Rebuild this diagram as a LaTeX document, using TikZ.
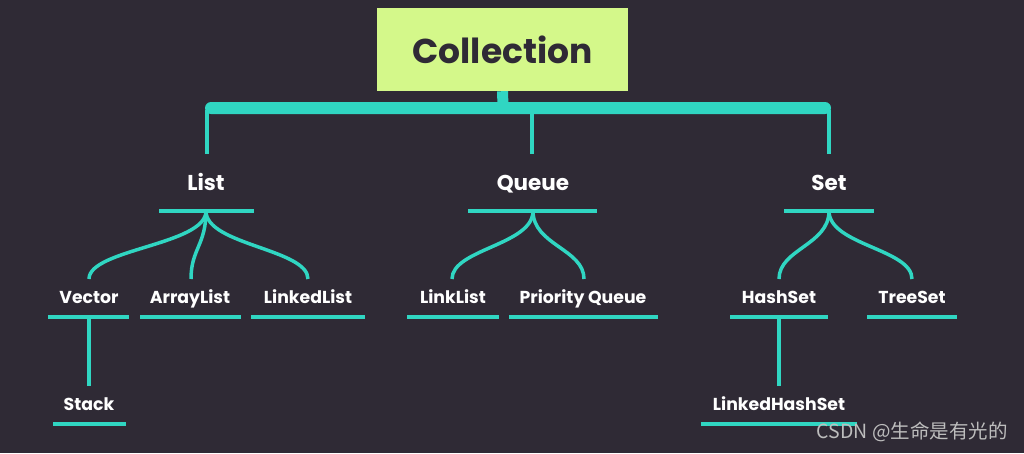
\documentclass[tikz,border=0pt]{standalone}
\usepackage{fontspec}
\setmainfont{Poppins}
\newfontfamily\cjkfont{Noto Sans CJK SC}
\definecolor{bgdark}{HTML}{2F2A35}
\definecolor{mint}{HTML}{30D6C2}
\definecolor{lime}{HTML}{D4F88A}
\definecolor{markgray}{HTML}{BDBDBD}
\tikzset{
  root/.style={fill=lime, text=bgdark, inner sep=0pt, minimum width=251pt, minimum height=83pt,
    font=\fontsize{34.5}{40}\selectfont\bfseries},
  head/.style={text=white, inner sep=0pt, anchor=base, font=\fontsize{21.5}{25}\selectfont\bfseries},
  leaf/.style={text=white, inner sep=0pt, anchor=base, font=\fontsize{17.3}{20}\selectfont\bfseries},
  uline/.style={draw=mint, line width=3.5pt},
  link/.style={draw=mint, line width=3.5pt},
}

\begin{document}
\begin{tikzpicture}[x=1pt,y=-1pt]
\fill[bgdark] (0,0) rectangle (1024,453);
\useasboundingbox (0,0) rectangle (1024,453);

% top box and bracket
\node[root] (coll) at (502.5,49.5) {Collection};
\coordinate (stem) at (503,106);
\draw[mint, line width=11pt] (coll.south) -- (stem);
\fill[mint, rounded corners=6pt] (205,102) rectangle (831,114);

\coordinate (list-bar) at (207,110);
\coordinate (queue-bar) at (532,110);
\coordinate (set-bar) at (829,110);
\coordinate (list-leg) at (207,154);
\coordinate (queue-leg) at (532,154);
\coordinate (set-leg) at (829,154);
\draw[link] (list-bar) -- (list-leg);
\draw[link] (queue-bar) -- (queue-leg);
\draw[link] (set-bar) -- (set-leg);

% second row
\node[head] (list) at (206,190) {List};
\node[head] (queue) at (533,190) {Queue};
\node[head] (set) at (829,190) {Set};

\draw[uline] (159,211) -- (254,211);
\draw[uline] (468,211) -- (597,211);
\draw[uline] (784,211) -- (874,211);

\coordinate (list-m) at (206,211);
\coordinate (queue-m) at (533,211);
\coordinate (set-m) at (829,211);

% third row
\node[leaf] (vector) at (89,303.5) {Vector};
\node[leaf] (arraylist) at (190,303.5) {ArrayList};
\node[leaf] (linkedlist) at (308,303.5) {LinkedList};
\node[leaf] (linklist) at (453,303.5) {LinkList};
\node[leaf] (prio) at (583,303.5) {Priority Queue};
\node[leaf] (hashset) at (779,303.5) {HashSet};
\node[leaf] (treeset) at (912,303.5) {TreeSet};

\coordinate (vector-t) at (89,279);
\coordinate (arraylist-t) at (191,279);
\coordinate (linkedlist-t) at (308,279);
\coordinate (linklist-t) at (452,279);
\coordinate (prio-t) at (584,279);
\coordinate (hashset-t) at (779,279);
\coordinate (treeset-t) at (912,279);

\draw[link] (list-m) .. controls +(0,34) and +(0,-30) .. (vector-t);
\draw[link] (list-m) .. controls +(0,34) and +(0,-30) .. (arraylist-t);
\draw[link] (list-m) .. controls +(0,34) and +(0,-30) .. (linkedlist-t);
\draw[link] (queue-m) .. controls +(0,34) and +(0,-30) .. (linklist-t);
\draw[link] (queue-m) .. controls +(0,34) and +(0,-30) .. (prio-t);
\draw[link] (set-m) .. controls +(0,34) and +(0,-30) .. (hashset-t);
\draw[link] (set-m) .. controls +(0,34) and +(0,-30) .. (treeset-t);

\draw[uline] (48,317) -- (129,317);
\draw[uline] (140,317) -- (241,317);
\draw[uline] (251,317) -- (365,317);
\draw[uline] (407,317) -- (499,317);
\draw[uline] (509,317) -- (658,317);
\draw[uline] (730,317) -- (828,317);
\draw[uline] (867,317) -- (957,317);

\coordinate (vector-m) at (89,317);
\coordinate (hashset-m) at (779,317);

% fourth row
\node[leaf] (stack) at (89,410) {Stack};
\node[leaf] (linkedhash) at (779,410) {LinkedHashSet};
\coordinate (stack-t) at (89,386);
\coordinate (linkedhash-t) at (779,386);
\draw[link] (vector-m) -- (stack-t);
\draw[link] (hashset-m) -- (linkedhash-t);

\draw[uline] (53,424) -- (126,424);
\draw[uline] (701,424) -- (857,424);

\node[text=markgray, anchor=east, inner sep=0pt, font=\cjkfont\fontsize{19.5}{22}\selectfont] (mark) at (1008,432) {CSDN @生命是有光的};
\end{tikzpicture}
\end{document}
